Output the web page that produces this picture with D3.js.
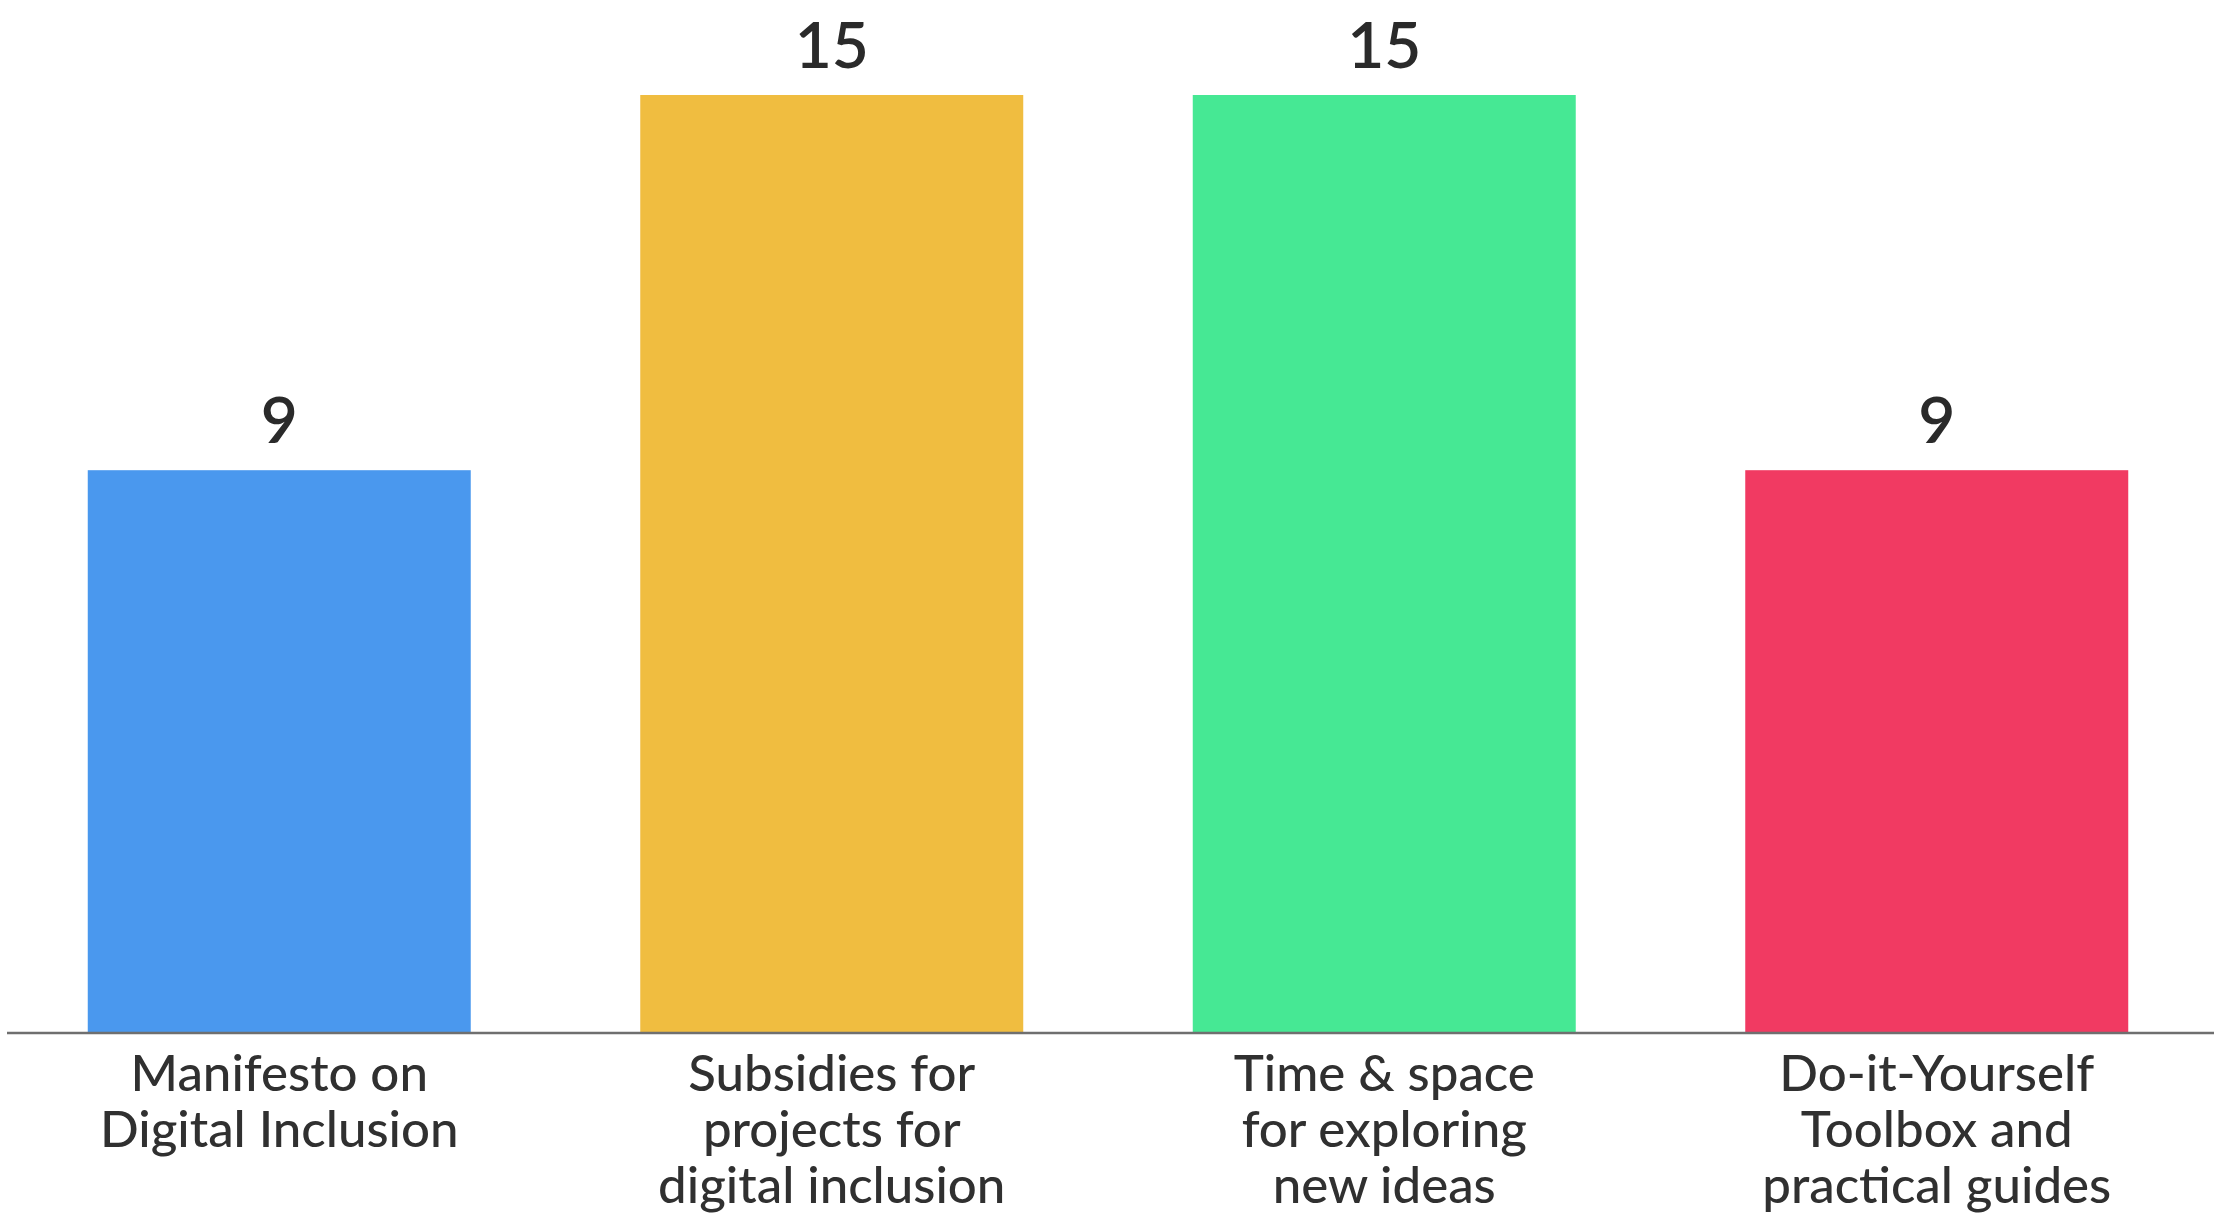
<!DOCTYPE html>
<html>
<head>
<meta charset="utf-8">
<script src="https://cdn.jsdelivr.net/npm/d3@7"></script>
<style>
  html, body { margin: 0; padding: 0; background: #ffffff; }
  svg { display: block; }
</style>
</head>
<body>
<svg id="chart" width="2219" height="1220"></svg>
<script>
const categories = [
  ["Manifesto on", "Digital Inclusion"],
  ["Subsidies for", "projects for", "digital inclusion"],
  ["Time & space", "for exploring", "new ideas"],
  ["Do-it-Yourself", "Toolbox and", "practical guides"]
];
const values = [9, 15, 15, 9];
const colors = ["#4a98ee", "#f0bd40", "#46e894", "#f13a62"];

const W = 2219, H = 1220;
const baseY = 1033, topY = 95;
const svg = d3.select("#chart");

const keys = categories.map((c, i) => i);
const x = d3.scaleBand().domain(keys).range([3, 2213]).paddingInner(0.3068).paddingOuter(0.1534);
const y = d3.scaleLinear().domain([0, 15]).range([baseY, topY]);

const font = "Lato, 'Noto Sans', sans-serif";

svg.selectAll("rect.bar").data(values).join("rect")
  .attr("class", "bar")
  .attr("x", (d, i) => x(i))
  .attr("width", x.bandwidth())
  .attr("y", d => y(d))
  .attr("height", d => y(0) - y(d))
  .attr("fill", (d, i) => colors[i]);

// baseline axis
const axis = d3.axisBottom(x).tickSize(0).tickFormat("");
const gAxis = svg.append("g").attr("transform", `translate(0,${baseY})`).call(axis);
gAxis.select(".domain").attr("stroke", "#6f6f6f").attr("stroke-width", 2.5)
  .attr("d", `M7,0H2214`);

// value labels
svg.selectAll("text.val").data(values).join("text")
  .attr("class", "val")
  .attr("x", (d, i) => x(i) + x.bandwidth() / 2)
  .attr("y", d => y(d) - 27)
  .attr("text-anchor", "middle")
  .attr("font-family", font)
  .attr("font-size", 64)
  .attr("font-weight", 600)
  .attr("fill", "#2a2a2a")
  .text(d => d);

// category labels
const gl = svg.selectAll("text.cat").data(categories).join("text")
  .attr("class", "cat")
  .attr("text-anchor", "middle")
  .attr("font-family", font)
  .attr("font-size", 51)
  .attr("font-weight", 500)
  .attr("fill", "#303030");
gl.selectAll("tspan").data((d, i) => d.map(t => ({t, i}))).join("tspan")
  .attr("x", d => x(d.i) + x.bandwidth() / 2)
  .attr("y", (d, j) => 1091 + j * 56)
  .text(d => d.t);
</script>
</body>
</html>
